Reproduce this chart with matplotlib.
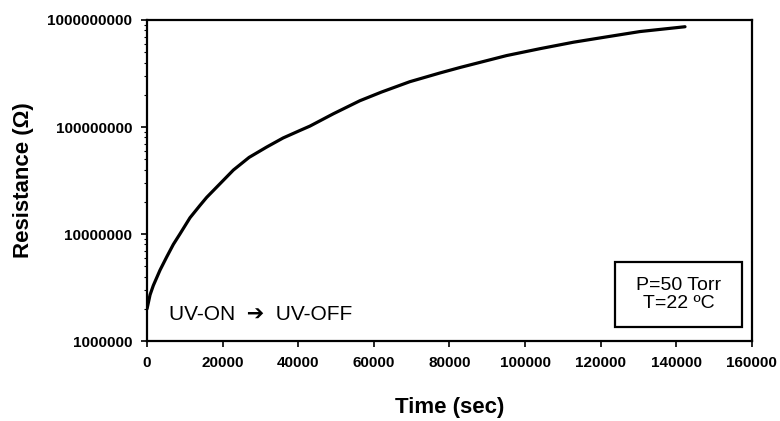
import matplotlib
matplotlib.use("Agg")
import matplotlib.pyplot as plt
from matplotlib.ticker import FuncFormatter, LogLocator, NullFormatter
from matplotlib.patches import Rectangle

plt.rcParams['font.family'] = ['Liberation Sans', 'DejaVu Sans']

# readings: time (s) vs resistance (ohm)
time_s = [0, 800, 1660, 3440, 5200, 6960, 8700, 11370, 14000, 15780,
          22840, 27000, 31660, 36000, 40500, 43100, 49300, 56300, 62000,
          69500, 77500, 82800, 95100, 104000, 112800, 121500, 130400, 142300]
resistance = [2.0e6, 2.7e6, 3.3e6, 4.6e6, 6.1e6, 8.0e6, 1.0e7, 1.42e7, 1.85e7, 2.2e7,
              3.96e7, 5.2e7, 6.5e7, 7.9e7, 9.3e7, 1.02e8, 1.33e8, 1.76e8, 2.12e8,
              2.65e8, 3.2e8, 3.6e8, 4.65e8, 5.4e8, 6.2e8, 6.95e8, 7.8e8, 8.65e8]

x_ticks = [0, 20000, 40000, 60000, 80000, 100000, 120000, 140000, 160000]
y_ticks = [1e6, 1e7, 1e8, 1e9]

fig = plt.figure(figsize=(7.8, 4.21), dpi=100)
ax = fig.add_axes([0.1885, 0.19, 0.7755, 0.7625])

ax.plot(time_s, resistance, color='black', lw=2.3, solid_capstyle='round',
        solid_joinstyle='round')

ax.set_yscale('log')
ax.set_xlim(0, 160000)
ax.set_ylim(1e6, 1e9)
ax.set_xticks(x_ticks)
ax.set_yticks(y_ticks)
ax.yaxis.set_major_formatter(FuncFormatter(lambda v, p: "%d" % round(v)))
ax.yaxis.set_minor_locator(LogLocator(base=10, subs=range(2, 10)))
ax.yaxis.set_minor_formatter(NullFormatter())

ax.tick_params(axis='both', which='major', direction='out', length=4, width=1.2,
               labelsize=11, pad=6.5)
ax.tick_params(axis='y', which='minor', direction='out', length=2.5, width=0.8)
for lbl in ax.get_xticklabels() + ax.get_yticklabels():
    lbl.set_fontweight('bold')
for s in ax.spines.values():
    s.set_linewidth(1.6)

ax.set_xlabel('Time (sec)', fontsize=16, fontweight='bold', labelpad=20)
ax.set_ylabel('Resistance (Ω)', fontsize=16, fontweight='bold', labelpad=10)

ax.text(0.036, 0.084, 'UV-ON  ➔  UV-OFF', transform=ax.transAxes,
        fontsize=15, va='center', ha='left',
        family=['Liberation Sans', 'DejaVu Sans'])

# condition box
ax.add_patch(Rectangle((0.7736, 0.0436), 0.2099, 0.2025, transform=ax.transAxes,
                       fc='white', ec='black', lw=1.6, zorder=3))
ax.text(0.8785, 0.145, 'P=50 Torr\nT=22 ºC', transform=ax.transAxes,
        fontsize=14, va='center', ha='center', linespacing=1.1, zorder=4)

fig.savefig('out.png', dpi=100)
